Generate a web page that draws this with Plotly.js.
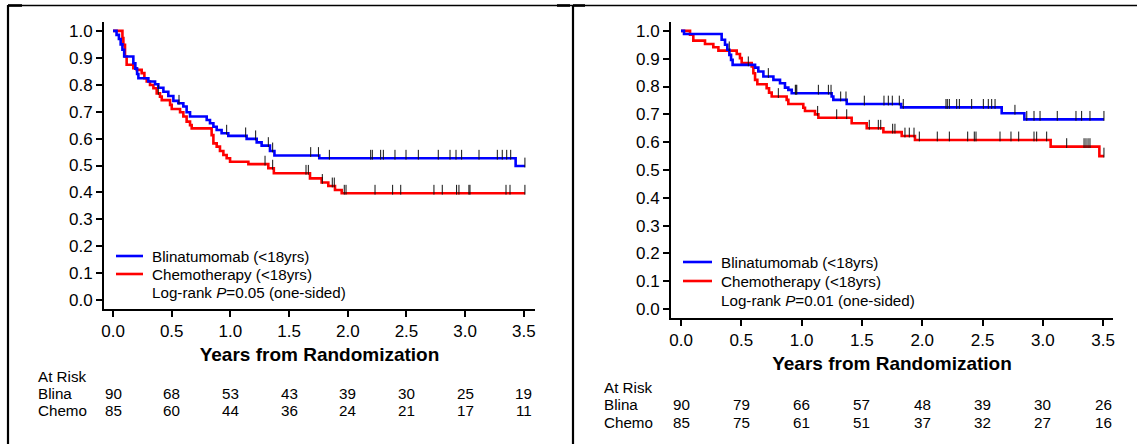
<!DOCTYPE html>
<html>
<head>
<meta charset="utf-8">
<script src="https://cdn.plot.ly/plotly-3.0.1.min.js"></script>
<style>html,body{margin:0;padding:0;background:#fff;}#chart{width:1139px;height:444px;}</style>
</head>
<body>
<div id="chart"></div>
<script>
// ---------- DATA ----------
const xTicks = [0, 0.5, 1, 1.5, 2, 2.5, 3, 3.5];
const xTickText = ["0.0","0.5","1.0","1.5","2.0","2.5","3.0","3.5"];
const atRiskRows = ["Blina", "Chemo"];
const seriesNames = ["Blinatumomab (<18yrs)", "Chemotherapy (<18yrs)"];
const pLeft = "Log-rank <i>P</i>=0.05 (one-sided)";
const pRight = "Log-rank <i>P</i>=0.01 (one-sided)";

// Left panel
const L_blina_t = [0, 0.03, 0.05, 0.065, 0.08, 0.095, 0.173, 0.19, 0.205, 0.216, 0.301, 0.358, 0.386, 0.429, 0.471, 0.514, 0.556, 0.599, 0.627, 0.656, 0.798, 0.826, 0.855, 0.883, 0.925, 0.982, 1.138, 1.224, 1.266, 1.337, 1.375, 1.757, 3.43, 3.51];
const L_blina_s = [1.0, 0.985, 0.97, 0.95, 0.93, 0.905, 0.88, 0.86, 0.84, 0.824, 0.812, 0.802, 0.789, 0.774, 0.758, 0.740, 0.731, 0.719, 0.698, 0.682, 0.669, 0.657, 0.644, 0.632, 0.620, 0.610, 0.599, 0.586, 0.574, 0.554, 0.537, 0.527, 0.498, 0.498];
const L_chemo_t = [0, 0.080, 0.088, 0.102, 0.116, 0.131, 0.173, 0.202, 0.244, 0.267, 0.287, 0.315, 0.344, 0.372, 0.400, 0.415, 0.486, 0.500, 0.571, 0.599, 0.627, 0.656, 0.670, 0.840, 0.855, 0.883, 0.911, 0.940, 0.968, 0.997, 1.153, 1.323, 1.370, 1.678, 1.777, 1.834, 1.891, 1.948, 3.51];
const L_chemo_s = [1.0, 0.973, 0.948, 0.905, 0.874, 0.874, 0.861, 0.855, 0.843, 0.824, 0.812, 0.799, 0.787, 0.768, 0.756, 0.743, 0.725, 0.710, 0.698, 0.682, 0.663, 0.650, 0.638, 0.613, 0.582, 0.570, 0.554, 0.539, 0.527, 0.514, 0.505, 0.490, 0.471, 0.452, 0.437, 0.424, 0.409, 0.397, 0.397];
const L_blina_cens = [0.562, 0.968, 1.13, 1.215, 1.323, 1.36, 1.684, 1.75, 1.843, 2.195, 2.209, 2.280, 2.303, 2.402, 2.496, 2.601, 2.771, 2.871, 2.922, 2.970, 3.118, 3.274, 3.316, 3.354, 3.388, 3.509];
const L_chemo_cens = [0.386, 1.295, 1.36, 1.644, 1.664, 1.783, 1.868, 1.885, 1.970, 1.985, 2.232, 2.382, 2.451, 2.734, 2.805, 2.927, 2.947, 3.032, 3.041, 3.348, 3.382, 3.509];
const L_atrisk_blina = [90, 68, 53, 43, 39, 30, 25, 19];
const L_atrisk_chemo = [85, 60, 44, 36, 24, 21, 17, 11];

// Right panel
const R_blina_t = [0, 0.025, 0.337, 0.365, 0.384, 0.401, 0.415, 0.428, 0.614, 0.641, 0.683, 0.766, 0.821, 0.862, 0.890, 0.918, 1.249, 1.263, 1.374, 1.825, 2.659, 2.847, 3.507];
const R_blina_s = [1.0, 0.989, 0.968, 0.950, 0.932, 0.914, 0.896, 0.878, 0.868, 0.854, 0.836, 0.824, 0.812, 0.796, 0.788, 0.776, 0.764, 0.752, 0.737, 0.725, 0.704, 0.682, 0.682];
const R_chemo_t = [0, 0.075, 0.102, 0.199, 0.268, 0.310, 0.462, 0.489, 0.503, 0.586, 0.600, 0.614, 0.633, 0.710, 0.730, 0.752, 0.876, 0.890, 1.014, 1.028, 1.111, 1.139, 1.415, 1.540, 1.678, 1.830, 1.940, 3.065, 3.469, 3.507];
const R_chemo_s = [1.0, 0.986, 0.965, 0.953, 0.941, 0.929, 0.917, 0.902, 0.884, 0.872, 0.848, 0.824, 0.808, 0.794, 0.778, 0.764, 0.752, 0.737, 0.724, 0.712, 0.700, 0.688, 0.668, 0.650, 0.636, 0.622, 0.608, 0.584, 0.550, 0.550];
const R_blina_cens = [0.40, 0.558, 0.724, 0.948, 0.954, 0.96, 1.139, 1.222, 1.244, 1.324, 1.368, 1.52, 1.683, 1.719, 1.752, 1.81, 1.843, 2.197, 2.208, 2.225, 2.286, 2.308, 2.41, 2.507, 2.548, 2.576, 2.604, 2.769, 2.867, 2.927, 2.977, 3.12, 3.275, 3.322, 3.391, 3.507];
const R_chemo_cens = [0.807, 1.133, 1.291, 1.374, 1.561, 1.636, 1.656, 1.755, 1.774, 1.857, 1.893, 1.932, 1.976, 2.125, 2.225, 2.377, 2.432, 2.446, 2.645, 2.736, 2.80, 2.927, 2.949, 3.032, 3.198, 3.342, 3.358, 3.375, 3.391, 3.507];
const R_atrisk_blina = [90, 79, 66, 57, 48, 39, 30, 26];
const R_atrisk_chemo = [85, 75, 61, 51, 37, 32, 27, 16];

// ---------- STYLE / LAYOUT HELPERS ----------
const W = 1139, H = 444;
const FONT = "Liberation Sans, Arial, Helvetica, sans-serif";
const BLUE = "#0000ff", RED = "#ff0000";
const TXT = 15.2;
const px = v => v / W;
const py = v => 1 - v / H;

function stepAt(ts, ss, t) {
  let v = ss[0];
  for (let i = 0; i < ts.length; i++) { if (ts[i] <= t) v = ss[i]; }
  return v;
}

function curve(ts, ss, color, xa, ya) {
  return {x: ts, y: ss, type: "scatter", mode: "lines", line: {shape: "hv", color: color, width: 2.6},
          xaxis: xa, yaxis: ya, showlegend: false, hoverinfo: "skip"};
}
function cens(ts, ss, times, xa, ya, off) {
  return {x: times, y: times.map(t => stepAt(ts, ss, t) + off), type: "scatter", mode: "markers",
          marker: {symbol: "line-ns", size: 7, line: {width: 1, color: "#111"}},
          xaxis: xa, yaxis: ya, showlegend: false, hoverinfo: "skip"};
}

const data = [
  curve(L_chemo_t, L_chemo_s, RED, "x", "y"),
  curve(L_blina_t, L_blina_s, BLUE, "x", "y"),
  cens(L_chemo_t, L_chemo_s, L_chemo_cens, "x", "y", 0.013),
  cens(L_blina_t, L_blina_s, L_blina_cens, "x", "y", 0.013),
  curve(R_chemo_t, R_chemo_s, RED, "x2", "y2"),
  curve(R_blina_t, R_blina_s, BLUE, "x2", "y2"),
  cens(R_chemo_t, R_chemo_s, R_chemo_cens, "x2", "y2", 0.0126),
  cens(R_blina_t, R_blina_s, R_blina_cens, "x2", "y2", 0.0126)
];

function xAxis(domain, range, anchor) {
  return {domain: domain, range: range, anchor: anchor, tickvals: xTicks, ticktext: xTickText,
    ticks: "outside", ticklen: 6, tickwidth: 2, tickcolor: "#000", showline: true, linewidth: 2, linecolor: "#000",
    showgrid: false, zeroline: false, tickfont: {family: FONT, size: 17, color: "#000"},
    title: {text: "<b>Years from Randomization</b>", font: {family: FONT, size: 19, color: "#000"}, standoff: 7}};
}
function yAxis(domain, range, anchor) {
  return {domain: domain, range: range, anchor: anchor, dtick: 0.1, tick0: 0, tickformat: ".1f",
    ticks: "outside", ticklen: 6, tickwidth: 2, tickcolor: "#000", showline: true, linewidth: 2, linecolor: "#000",
    showgrid: false, zeroline: false, tickfont: {family: FONT, size: 17, color: "#000"}};
}

const annotations = [];
const shapes = [];
function addPanel(xref, legX0, legX1, legTextX, legY, pText, riskX, riskY, blinaRisk, chemoRisk) {
  [[BLUE, seriesNames[0], legY[0]], [RED, seriesNames[1], legY[1]]].forEach(([c, t, y]) => {
    shapes.push({type: "line", xref: "paper", yref: "paper", x0: px(legX0), x1: px(legX1), y0: py(y), y1: py(y), line: {color: c, width: 2.6}});
    annotations.push({xref: "paper", yref: "paper", x: px(legTextX), y: py(y), xanchor: "left", yanchor: "middle", showarrow: false,
      text: t, font: {family: FONT, size: TXT, color: "#000"}});
  });
  annotations.push({xref: "paper", yref: "paper", x: px(legTextX), y: py(legY[2]), xanchor: "left", yanchor: "middle", showarrow: false,
    text: pText, font: {family: FONT, size: TXT, color: "#000"}});
  annotations.push({xref: "paper", yref: "paper", x: px(riskX), y: py(riskY[0]), xanchor: "left", yanchor: "middle", showarrow: false,
    text: "At Risk", font: {family: FONT, size: TXT, color: "#000"}});
  [[atRiskRows[0], blinaRisk, riskY[1]], [atRiskRows[1], chemoRisk, riskY[2]]].forEach(([lab, vals, y]) => {
    annotations.push({xref: "paper", yref: "paper", x: px(riskX), y: py(y), xanchor: "left", yanchor: "middle", showarrow: false,
      text: lab, font: {family: FONT, size: TXT, color: "#000"}});
    vals.forEach((v, i) => annotations.push({xref: xref, yref: "paper", x: xTicks[i], y: py(y), xanchor: "center", yanchor: "middle",
      showarrow: false, text: String(v), font: {family: FONT, size: TXT, color: "#000"}}));
  });
}
addPanel("x", 116, 143, 150, [256, 274, 292], pLeft, 36, [376, 393, 410], L_atrisk_blina, L_atrisk_chemo);
addPanel("x2", 683, 712, 719, [262, 281, 300], pRight, 602, [387, 404, 422], R_atrisk_blina, R_atrisk_chemo);

// panel borders
const bl = (x0, y0, x1, y1, w) => shapes.push({type: "line", xref: "paper", yref: "paper", x0: px(x0), y0: py(y0), x1: px(x1), y1: py(y1), line: {color: "#000", width: w}});
bl(8, 5.5, 1137, 5.5, 1.5);
bl(8, 5.5, 22, 5.5, 2.6);
bl(557, 5.5, 570, 5.5, 2.6);
bl(573, 5.5, 585, 5.5, 2.6);
bl(8, 5, 8, 444, 2.2);
bl(573, 5, 573, 444, 2.2);

const layout = {
  width: W, height: H, margin: {l: 0, r: 0, t: 0, b: 0}, paper_bgcolor: "#fff", plot_bgcolor: "rgba(0,0,0,0)",
  showlegend: false,
  xaxis: xAxis([px(104), px(535)], [-0.077, 3.595], "y"),
  yaxis: yAxis([py(309), py(22)], [-0.033, 1.033], "x"),
  xaxis2: xAxis([px(671), px(1113)], [-0.083, 3.582], "y2"),
  yaxis2: yAxis([py(318), py(22)], [-0.032, 1.032], "x2"),
  annotations: annotations, shapes: shapes
};

Plotly.newPlot("chart", data, layout, {displayModeBar: false, staticPlot: true});
</script>
</body>
</html>
